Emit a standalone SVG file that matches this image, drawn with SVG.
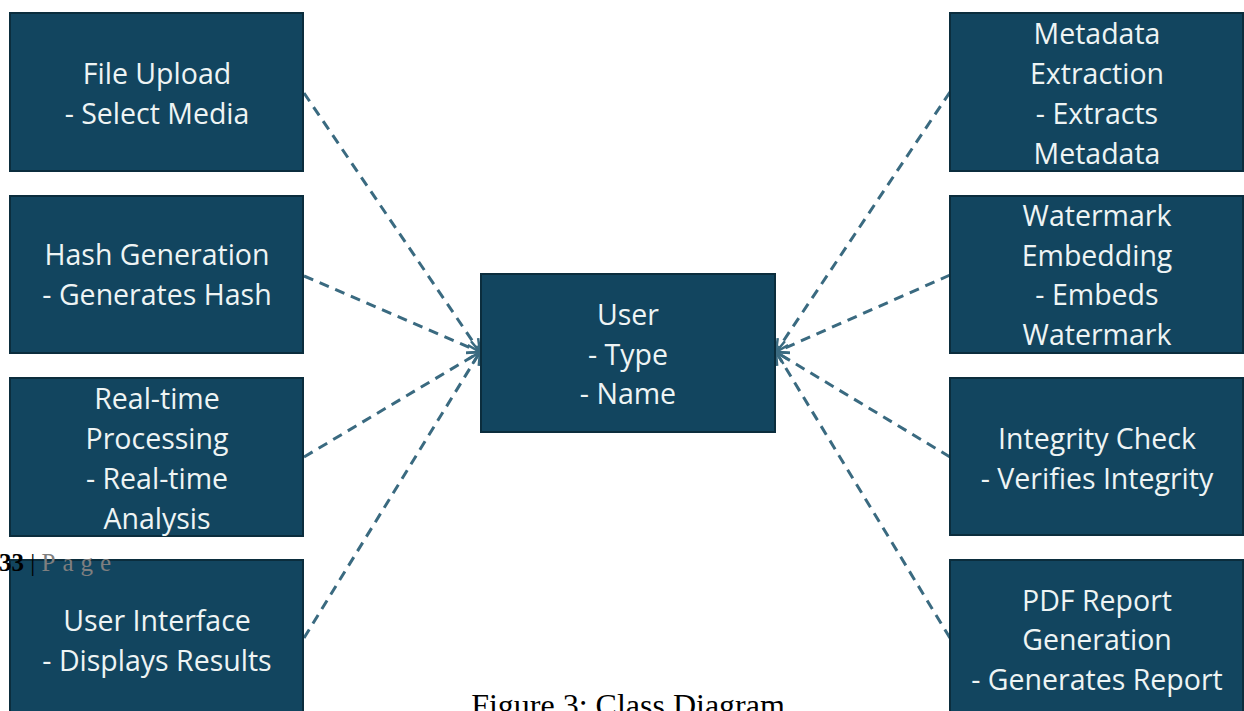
<svg xmlns="http://www.w3.org/2000/svg" width="1244" height="711" viewBox="0 0 1244 711">
<style>
.box{fill:#12455f;stroke:#0b2d3d;stroke-width:2}
.t{font-family:"Open Sans","Noto Sans",sans-serif;font-size:28.5px;fill:#eef4f4;text-anchor:middle}
.c{fill:none;stroke:#3a6a80;stroke-width:3;stroke-dasharray:10 7;marker-end:url(#arr)}
</style>
<defs>
<marker id="arr" viewBox="0 0 12 12" refX="11" refY="6" markerWidth="5" markerHeight="5" orient="auto" markerUnits="strokeWidth">
<path d="M1,1 L11,6 L1,11" fill="none" stroke="#3a6a80" stroke-width="2" stroke-dasharray="none"/>
</marker>
</defs>
<rect width="1244" height="711" fill="#ffffff"/>
<g id="connectors">
<line class="c" x1="304" y1="93" x2="480" y2="352"/>
<line class="c" x1="304" y1="276" x2="480" y2="352"/>
<line class="c" x1="304" y1="457" x2="480" y2="352"/>
<line class="c" x1="304" y1="638" x2="480" y2="352"/>
<line class="c" x1="950" y1="92" x2="776" y2="352"/>
<line class="c" x1="950" y1="275" x2="776" y2="352"/>
<line class="c" x1="950" y1="457" x2="776" y2="352"/>
<line class="c" x1="950" y1="638" x2="776" y2="352"/>
</g>
<g id="file-upload"><rect class="box" x="10" y="13" width="293" height="158"/>
<text class="t" x="157" y="84">File Upload</text><text class="t" x="157" y="124">- Select Media</text></g>
<g id="hash-generation"><rect class="box" x="10" y="196" width="293" height="157"/>
<text class="t" x="157" y="265">Hash Generation</text><text class="t" x="157" y="305">- Generates Hash</text></g>
<g id="realtime-processing"><rect class="box" x="10" y="378" width="293" height="158"/>
<text class="t" x="157" y="409">Real-time</text><text class="t" x="157" y="449">Processing</text><text class="t" x="157" y="489">- Real-time</text><text class="t" x="157" y="529">Analysis</text></g>
<g id="user-interface"><rect class="box" x="10" y="560" width="293" height="160"/>
<text class="t" x="157" y="631">User Interface</text><text class="t" x="157" y="671">- Displays Results</text></g>
<g id="user"><rect class="box" x="481" y="274" width="294" height="158"/>
<text class="t" x="628" y="325">User</text><text class="t" x="628" y="365">- Type</text><text class="t" x="628" y="404">- Name</text></g>
<g id="metadata-extraction"><rect class="box" x="950" y="13" width="293" height="158"/>
<text class="t" x="1097" y="44">Metadata</text><text class="t" x="1097" y="84">Extraction</text><text class="t" x="1097" y="124">- Extracts</text><text class="t" x="1097" y="164">Metadata</text></g>
<g id="watermark-embedding"><rect class="box" x="950" y="196" width="293" height="157"/>
<text class="t" x="1097" y="226">Watermark</text><text class="t" x="1097" y="266">Embedding</text><text class="t" x="1097" y="305">- Embeds</text><text class="t" x="1097" y="345">Watermark</text></g>
<g id="integrity-check"><rect class="box" x="950" y="378" width="293" height="157"/>
<text class="t" x="1097" y="449">Integrity Check</text><text class="t" x="1097" y="489">- Verifies Integrity</text></g>
<g id="pdf-report"><rect class="box" x="950" y="560" width="293" height="160"/>
<text class="t" x="1097" y="611">PDF Report</text><text class="t" x="1097" y="650">Generation</text><text class="t" x="1097" y="690">- Generates Report</text></g>
<text x="-1" y="571" font-family="Liberation Serif,serif" font-size="25px"><tspan font-weight="bold" fill="#000">33</tspan><tspan fill="#000"> | </tspan><tspan fill="#7f7f7f" letter-spacing="7">Page</tspan></text>
<text x="628" y="716" font-family="Liberation Serif,serif" font-size="32px" fill="#000" text-anchor="middle">Figure 3: Class Diagram</text>
</svg>
